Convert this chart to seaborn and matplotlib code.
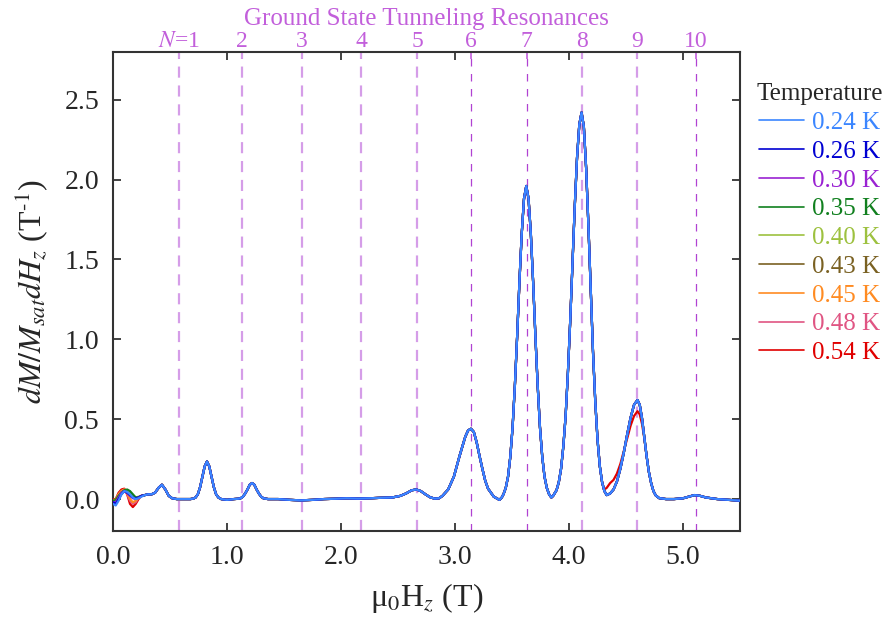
import numpy as np
import pandas as pd
import matplotlib
matplotlib.use("Agg")
import matplotlib.pyplot as plt
import seaborn as sns

# ---------------- data ----------------
temperatures = ["0.24 K", "0.26 K", "0.30 K", "0.35 K", "0.40 K",
                "0.43 K", "0.45 K", "0.48 K", "0.54 K"]
colors = ["#3b86ff", "#0000d2", "#9a22d2", "#11801f", "#9dc13f",
          "#7a6122", "#ff8b22", "#e05583", "#e00000"]

# low-field region (0 - 0.25 T), per temperature
x_low = [0.0, 0.025, 0.05, 0.075, 0.1, 0.125, 0.15, 0.175, 0.2, 0.225, 0.25]
y_low = {
    "0.24 K": [-0.03, -0.04, -0.01, 0.03, 0.05, 0.045, 0.03, 0.01, 0.0, 0.005, 0.015],
    "0.26 K": [-0.02, -0.03, 0.0, 0.03, 0.05, 0.04, 0.025, 0.01, 0.005, 0.01, 0.02],
    "0.30 K": [-0.02, -0.02, 0.01, 0.04, 0.05, 0.04, 0.02, 0.005, 0.0, 0.01, 0.02],
    "0.35 K": [-0.01, -0.01, 0.02, 0.04, 0.055, 0.06, 0.05, 0.03, 0.01, 0.01, 0.02],
    "0.40 K": [-0.01, -0.01, 0.02, 0.04, 0.05, 0.05, 0.04, 0.02, 0.01, 0.015, 0.02],
    "0.43 K": [-0.01, 0.0, 0.02, 0.04, 0.05, 0.05, 0.04, 0.02, 0.01, 0.01, 0.02],
    "0.45 K": [-0.01, 0.0, 0.03, 0.05, 0.06, 0.04, 0.0, -0.02, -0.01, 0.01, 0.02],
    "0.48 K": [-0.01, 0.0, 0.03, 0.05, 0.06, 0.03, -0.01, -0.03, -0.02, 0.01, 0.02],
    "0.54 K": [0.0, 0.0, 0.04, 0.06, 0.065, 0.03, -0.03, -0.05, -0.03, 0.0, 0.02],
}

# common curve above 0.25 T
x_main = [0.28, 0.31, 0.34, 0.37, 0.40, 0.43, 0.46, 0.49, 0.52, 0.56, 0.62, 0.68,
          0.705, 0.725, 0.745, 0.765, 0.785, 0.805, 0.825, 0.845, 0.865, 0.885, 0.905,
          0.925, 0.95, 1.00, 1.06, 1.10, 1.12, 1.14, 1.16, 1.18, 1.20, 1.22, 1.24,
          1.26, 1.28, 1.30, 1.32, 1.36, 1.45, 1.55, 1.65, 1.75, 1.85, 1.95, 2.05,
          2.15, 2.25, 2.35, 2.45, 2.52, 2.57, 2.62, 2.66, 2.70, 2.74, 2.78, 2.82,
          2.86, 2.89, 2.94, 2.99, 3.04, 3.09, 3.115, 3.14, 3.165, 3.19, 3.215, 3.24,
          3.265, 3.29, 3.34, 3.39, 3.41, 3.425, 3.445, 3.465, 3.485, 3.505, 3.525,
          3.545, 3.565, 3.585, 3.605, 3.625, 3.645, 3.665, 3.685, 3.705, 3.725, 3.745,
          3.765, 3.785, 3.805, 3.825, 3.845, 3.86, 3.89, 3.91, 3.93, 3.95, 3.97, 3.99,
          4.01, 4.03, 4.05, 4.07, 4.09, 4.11, 4.13, 4.15, 4.17, 4.19, 4.21, 4.23, 4.25,
          4.27, 4.29, 4.31, 4.33, 4.36, 4.39, 4.42, 4.45, 4.48, 4.51, 4.54, 4.57, 4.60,
          4.62, 4.64, 4.66, 4.68, 4.70, 4.72, 4.74, 4.76, 4.79, 4.85, 4.92, 5.00, 5.05,
          5.10, 5.15, 5.20, 5.30, 5.40, 5.50]
y_main = [0.025, 0.03, 0.03, 0.04, 0.07, 0.09, 0.06, 0.02, 0.005, 0.0, 0.0, 0.0,
          0.003, 0.01, 0.03, 0.075, 0.14, 0.205, 0.235, 0.205, 0.14, 0.075, 0.03,
          0.01, 0.0, -0.005, 0.0, 0.002, 0.005, 0.015, 0.035, 0.06, 0.09, 0.10, 0.09,
          0.06, 0.035, 0.015, 0.005, 0.0, 0.0, -0.005, -0.008, -0.005, 0.0, 0.002, 0.005,
          0.003, 0.005, 0.008, 0.01, 0.02, 0.035, 0.055, 0.06, 0.05, 0.03, 0.012, 0.003,
          0.005, 0.02, 0.06, 0.14, 0.27, 0.39, 0.43, 0.44, 0.42, 0.355, 0.27, 0.19,
          0.115, 0.065, 0.015, -0.005, 0.01, 0.03, 0.07, 0.14, 0.265, 0.45, 0.71,
          1.02, 1.36, 1.66, 1.88, 1.96, 1.88, 1.66, 1.36, 1.02, 0.71, 0.45,
          0.265, 0.14, 0.07, 0.03, 0.01, 0.02, 0.055, 0.105, 0.19, 0.33, 0.52, 0.79,
          1.11, 1.47, 1.83, 2.135, 2.345, 2.42, 2.33, 2.07, 1.71, 1.31, 0.925, 0.61, 0.37,
          0.205, 0.105, 0.05, 0.025, 0.035, 0.06, 0.11, 0.19, 0.29, 0.405, 0.51, 0.59, 0.62,
          0.59, 0.505, 0.39, 0.27, 0.17, 0.10, 0.05, 0.023, 0.006, 0.0, 0.0, 0.005, 0.015,
          0.025, 0.02, 0.01, 0.0, -0.005, -0.01]

# 0.54 K deviates around the N=9 resonance
x_red_win = [4.31, 4.33, 4.36, 4.39, 4.42, 4.45, 4.48, 4.51, 4.54, 4.57, 4.60,
             4.62, 4.64, 4.66, 4.68, 4.70]
y_red_win = [0.06, 0.07, 0.10, 0.12, 0.16, 0.22, 0.30, 0.38, 0.46, 0.52, 0.55,
             0.53, 0.47, 0.38, 0.27, 0.17]

# ground-state tunneling resonance fields
res_fields = [0.58, 1.13, 1.66, 2.18, 2.67, 3.14, 3.63, 4.11, 4.60, 5.11]
res_labels = [r"$N$=1", "2", "3", "4", "5", "6", "7", "8", "9", "10"]
res_thin = [False, False, False, False, False, True, True, False, False, True]

# ---------------- build table ----------------
rows = []
for t in temperatures:
    xs = list(x_low) + list(x_main)
    ys = list(y_low[t]) + list(y_main)
    if t == "0.54 K":
        for xr, yr in zip(x_red_win, y_red_win):
            ys[xs.index(xr)] = yr
    for xv, yv in zip(xs, ys):
        rows.append({"H": xv, "dM": yv, "T": t})
df = pd.DataFrame(rows)

# ---------------- style ----------------
sns.set_style("ticks")
plt.rcParams["font.family"] = ["Liberation Serif", "DejaVu Serif"]
plt.rcParams["mathtext.fontset"] = "stix"

violet = "#c25fdb"
violet_light = "#d59de8"

fig = plt.figure(figsize=(8.96, 6.24), dpi=100)
ax = fig.add_axes([0.126, 0.149, 0.700, 0.768])

for fx, thin in zip(res_fields, res_thin):
    if thin:
        ax.axvline(fx, color="#b042d2", lw=0.9, dashes=(6, 6), zorder=1)
    else:
        ax.axvline(fx, color=violet_light, lw=1.6, dashes=(5, 3.5), zorder=1)

palette = dict(zip(temperatures, colors))
order_draw = temperatures[::-1]
sns.lineplot(data=df, x="H", y="dM", hue="T", hue_order=order_draw,
             palette=palette, estimator=None, sort=True, lw=1.6, ax=ax,
             legend=False, zorder=3)

ax.set_xlim(0, 5.5)
ax.set_ylim(-0.2, 2.8)
ax.set_xticks([0, 1, 2, 3, 4, 5])
ax.set_xticklabels(["0.0", "1.0", "2.0", "3.0", "4.0", "5.0"])
ax.set_yticks([0, 0.5, 1.0, 1.5, 2.0, 2.5])
ax.set_yticklabels(["0.0", "0.5", "1.0", "1.5", "2.0", "2.5"])
ax.tick_params(direction="in", length=6, width=1.2, labelsize=20,
               top=True, right=True, color="#222222", pad=10)
for sp in ax.spines.values():
    sp.set_linewidth(1.5)
    sp.set_color("#333333")

ax.set_xlabel("μ$_0$H$_z$ (T)", fontsize=23, labelpad=8)
ax.set_ylabel(r"$dM/M_{sat}dH_z$ (T$^{\text{-}1}$)", fontsize=23, labelpad=10)

# top axis with resonance labels
secax = ax.secondary_xaxis("top")
secax.set_xticks(res_fields)
secax.set_xticklabels(res_labels)
secax.tick_params(direction="in", length=5, width=1.2, colors=violet,
                  labelsize=17, pad=0)
secax.spines["top"].set_visible(False)
secax.set_xlabel("Ground State Tunneling Resonances", fontsize=18,
                 color=violet, labelpad=4)

# legend
from matplotlib.lines import Line2D
handles = [Line2D([0], [0], color=c, lw=1.2) for c in colors]
leg = ax.legend(handles, temperatures, title="Temperature",
                loc="upper left", bbox_to_anchor=(1.01, 0.955),
                frameon=False, fontsize=18, title_fontsize=18,
                handlelength=1.8, handletextpad=0.3, labelspacing=0.25,
                borderaxespad=0, labelcolor=colors)

fig.savefig("out.png", dpi=100)
